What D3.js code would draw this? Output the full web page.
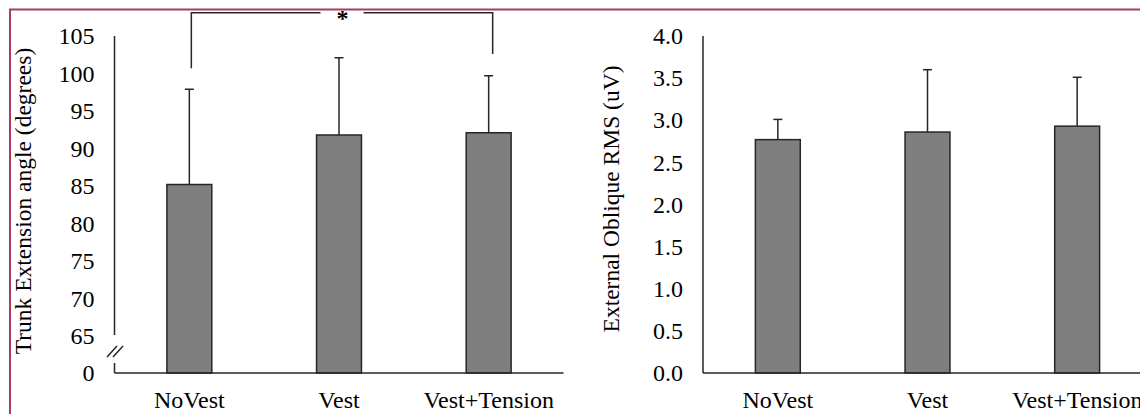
<!DOCTYPE html>
<html>
<head>
  <meta charset="utf-8">
  <script src="https://d3js.org/d3.v7.min.js"></script>
  <style>
    body { margin: 0; background: #fff; }
    .bar { fill: #7f7f7f; stroke: #262626; stroke-width: 1.5px; }
    .err, .axisline, .bracket { stroke: #262626; stroke-width: 1.5px; fill: none; }
  </style>
</head>
<body>
<script>
  var width = 1140,
      height = 414;
  var serif = "'Liberation Serif', 'Times New Roman', serif";

  var categories = ["NoVest", "Vest", "Vest+Tension"];

  // left panel: trunk extension angle (degrees), broken axis 0 / 65..105
  var angleMean = [85.2, 91.8, 92.1];
  var angleSD = [12.7, 10.3, 7.6];
  var angleTicks = [0, 65, 70, 75, 80, 85, 90, 95, 100, 105];

  // right panel: external oblique RMS (uV)
  var rmsMean = [2.77, 2.86, 2.93];
  var rmsSD = [0.24, 0.74, 0.58];
  var rmsTicks = [0, 0.5, 1.0, 1.5, 2.0, 2.5, 3.0, 3.5, 4.0];

  // significance bracket between NoVest and Vest+Tension
  var bracketPair = ["NoVest", "Vest+Tension"];
  var bracketLevels = [100.7, 108.1, 102.6];

  var svg = d3.select("body")
      .append("svg")
      .attr("width", width)
      .attr("height", height)
      .style("font-family", serif);

  svg.append("rect")
      .attr("x", 10)
      .attr("y", 9.5)
      .attr("width", 1200)
      .attr("height", 500)
      .attr("fill", "none")
      .attr("stroke", "#a83a63")
      .attr("stroke-width", 2);

  function label(sel, size) {
    return sel.style("font-family", serif)
        .style("font-size", (size || 24) + "px")
        .attr("fill", "#000");
  }

  function panel(opts) {
    var g = svg.append("g");
    var x = d3.scaleBand()
        .domain(categories)
        .range([opts.x0, opts.x1])
        .paddingInner(0.7)
        .paddingOuter(0.35);
    var y = opts.y;

    // y tick labels
    var axis = d3.axisLeft(y)
        .tickValues(opts.ticks)
        .tickSize(0)
        .tickPadding(20)
        .tickFormat(opts.fmt);
    var ax = g.append("g")
        .attr("transform", "translate(" + opts.x0 + ",0)")
        .call(axis);
    ax.attr("font-family", null).attr("font-size", null);
    ax.select(".domain").remove();
    ax.selectAll("text").call(label, 24);

    // bars
    g.selectAll(".bar")
        .data(opts.mean)
        .enter().append("rect")
        .attr("class", "bar")
        .attr("x", function(d, i) { return x(categories[i]); })
        .attr("width", x.bandwidth())
        .attr("y", function(d) { return y(d); })
        .attr("height", function(d) { return y(opts.ticks[0]) - y(d); });

    // error bars (upper only)
    var cx = function(i) { return x(categories[i]) + x.bandwidth() / 2; };
    g.selectAll(".errv")
        .data(opts.mean)
        .enter().append("line")
        .attr("class", "err")
        .attr("x1", function(d, i) { return cx(i); })
        .attr("x2", function(d, i) { return cx(i); })
        .attr("y1", function(d) { return y(d); })
        .attr("y2", function(d, i) { return y(d + opts.sd[i]); });
    g.selectAll(".errc")
        .data(opts.mean)
        .enter().append("line")
        .attr("class", "err")
        .attr("x1", function(d, i) { return cx(i) - 4.5; })
        .attr("x2", function(d, i) { return cx(i) + 4.5; })
        .attr("y1", function(d, i) { return y(d + opts.sd[i]); })
        .attr("y2", function(d, i) { return y(d + opts.sd[i]); });

    // x axis line
    var base = y(opts.ticks[0]);
    g.append("line")
        .attr("class", "axisline")
        .attr("x1", opts.x0).attr("x2", opts.x1)
        .attr("y1", base).attr("y2", base);

    // category labels
    g.selectAll(".cat")
        .data(categories)
        .enter().append("text")
        .attr("x", function(d) { return x(d) + x.bandwidth() / 2; })
        .attr("y", 408)
        .attr("text-anchor", "middle")
        .call(label, 24)
        .text(function(d) { return d; });

    // y axis title
    g.append("text")
        .attr("transform", "translate(" + opts.titleX + "," + opts.titleY + ") rotate(-90)")
        .attr("text-anchor", "middle")
        .call(label, 23.5)
        .text(opts.title);

    return { g: g, x: x, y: y, cx: cx };
  }

  // left panel
  var yAngle = d3.scaleLinear().domain([0, 65, 105]).range([373, 336, 36]);
  var left = panel({
    x0: 114.5, x1: 563.5, y: yAngle,
    ticks: angleTicks, fmt: d3.format("d"),
    mean: angleMean, sd: angleSD,
    title: "Trunk Extension angle (degrees)", titleX: 31, titleY: 201
  });

  // broken y axis
  left.g.append("line").attr("class", "axisline")
      .attr("x1", 114.5).attr("x2", 114.5)
      .attr("y1", yAngle(105)).attr("y2", 335);
  left.g.append("line").attr("class", "axisline")
      .attr("x1", 114.5).attr("x2", 114.5)
      .attr("y1", 363).attr("y2", yAngle(0));
  [0, 6].forEach(function(o) {
    left.g.append("line").attr("class", "axisline")
        .attr("x1", 107 + o).attr("y1", 357)
        .attr("x2", 117 + o).attr("y2", 346);
  });

  // significance bracket
  var bx1 = left.cx(categories.indexOf(bracketPair[0])) + 2,
      bx2 = left.cx(categories.indexOf(bracketPair[1])) + 4,
      by = yAngle(bracketLevels[1]),
      starX = (bx1 + bx2) / 2 + 0.5;
  left.g.append("path").attr("class", "bracket")
      .attr("d", "M" + bx1 + "," + yAngle(bracketLevels[0]) + "V" + by + "H" + (starX - 22));
  left.g.append("path").attr("class", "bracket")
      .attr("d", "M" + (starX + 21) + "," + by + "H" + bx2 + "V" + yAngle(bracketLevels[2]));
  left.g.append("text")
      .attr("x", starX)
      .attr("y", 26)
      .attr("text-anchor", "middle")
      .call(label, 24)
      .style("font-weight", "bold")
      .text("*");

  // right panel
  var yRms = d3.scaleLinear().domain([0, 4]).range([373, 36]);
  var right = panel({
    x0: 703, x1: 1152, y: yRms,
    ticks: rmsTicks, fmt: d3.format(".1f"),
    mean: rmsMean, sd: rmsSD,
    title: "External Oblique RMS (uV)", titleX: 619, titleY: 199
  });
  right.g.append("line").attr("class", "axisline")
      .attr("x1", 703).attr("x2", 703)
      .attr("y1", yRms(4)).attr("y2", yRms(0));
</script>
</body>
</html>
